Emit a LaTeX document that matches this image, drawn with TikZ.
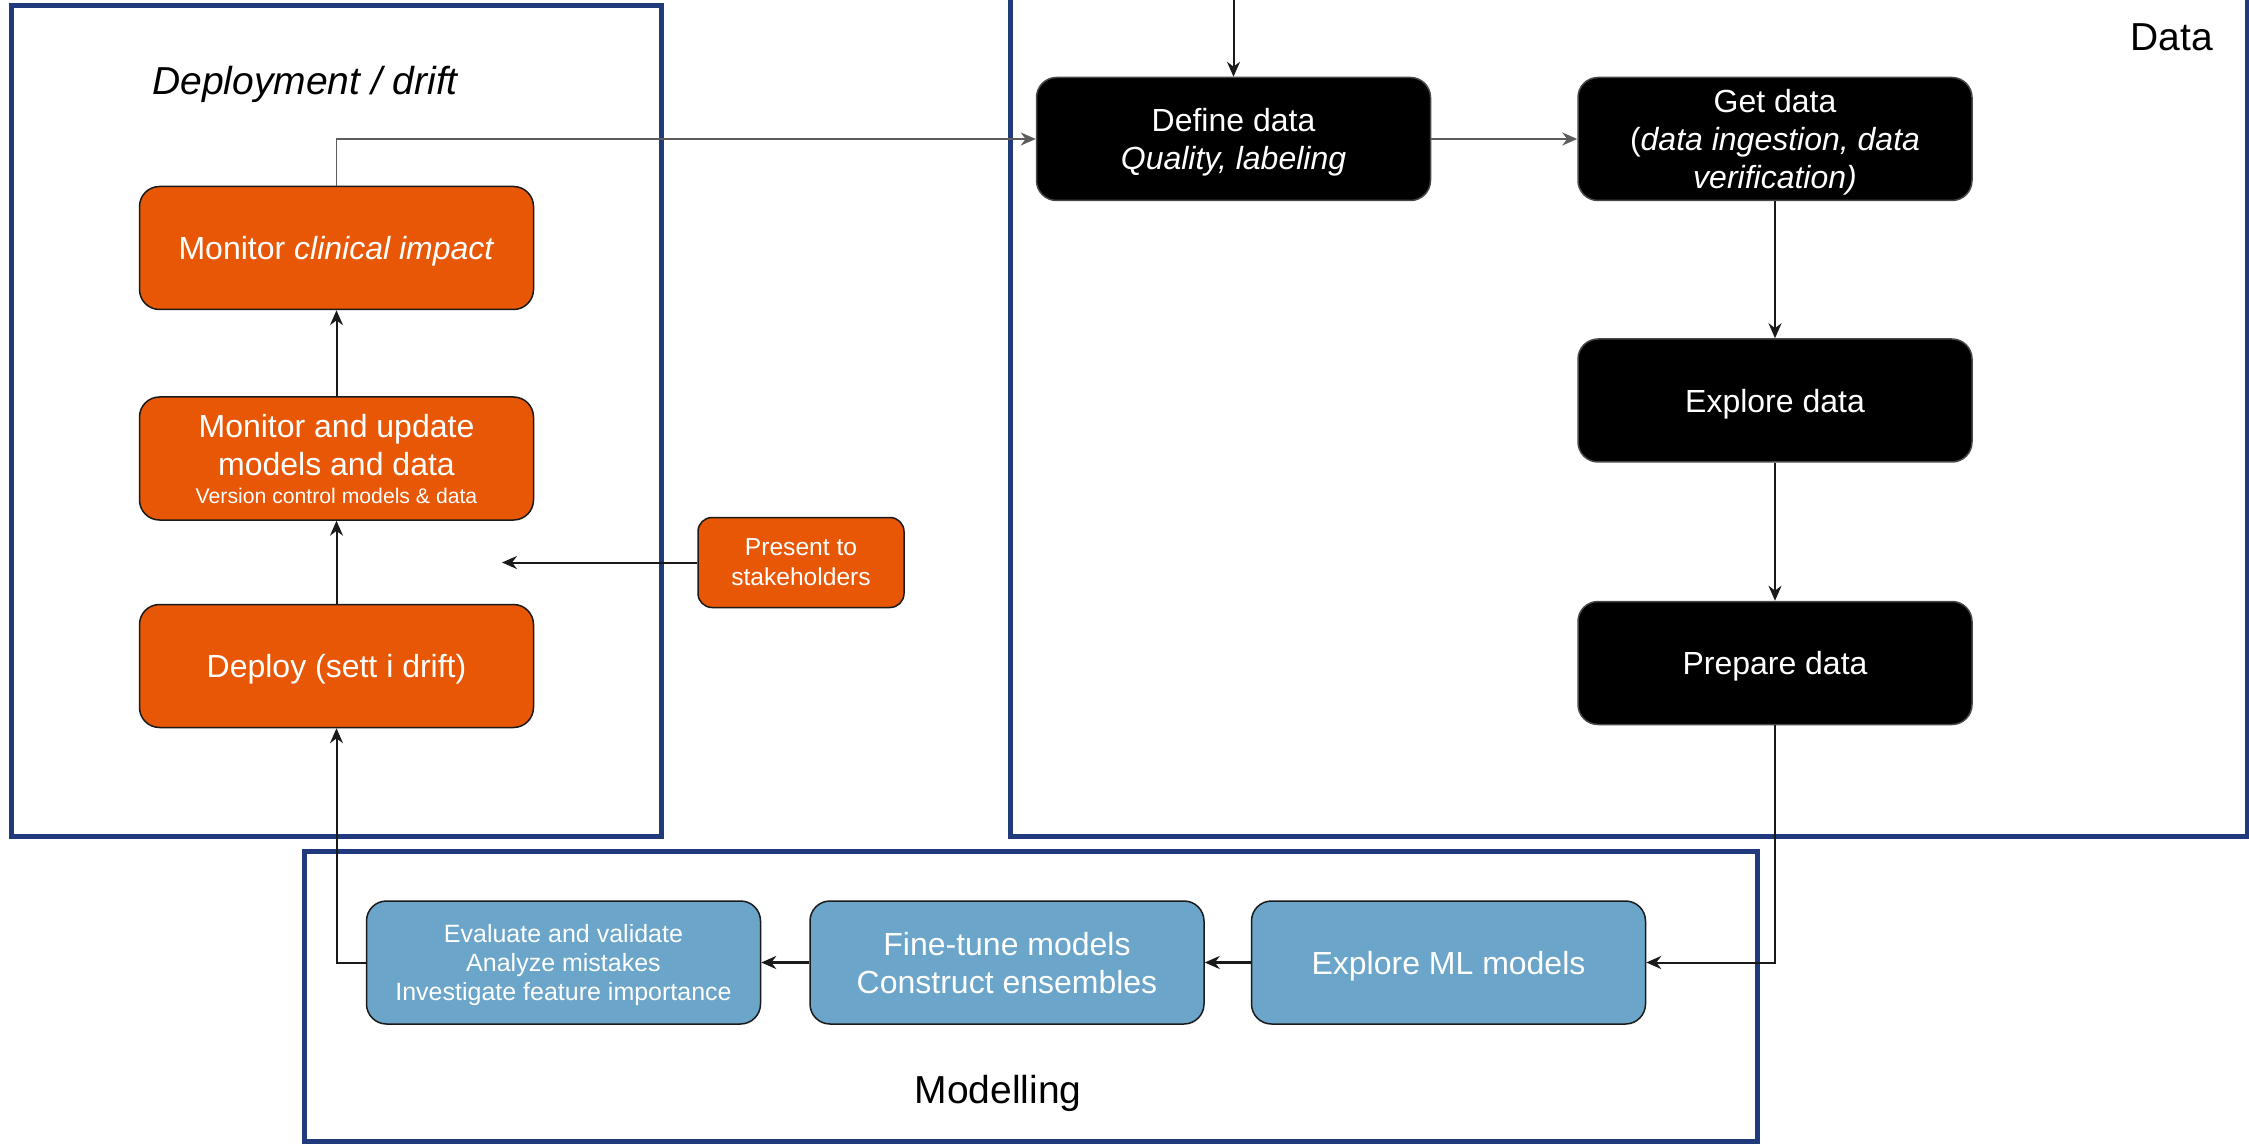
\documentclass[tikz,border=0pt]{standalone}
\usepackage{fontspec}
\setmainfont{Liberation Sans}
\usetikzlibrary{arrows.meta,positioning}
\definecolor{ink}{HTML}{1A1A1A}
\definecolor{frame}{HTML}{203A7C}
\definecolor{deployorange}{HTML}{E85705}
\definecolor{modelblue}{HTML}{6BA5CA}
\definecolor{linegray}{HTML}{5C5C5C}
\tikzset{
  basebox/.style={draw=ink,rounded corners=10pt,align=center,text=white,line width=0.75pt,minimum width=197pt,minimum height=61.5pt,inner sep=2pt,text depth=0pt,font=\fontsize{16}{19}\selectfont},
  orangebox/.style={basebox,fill=deployorange},
  databox/.style={basebox,fill=black,draw=ink!80},
  modelbox/.style={basebox,fill=modelblue},
  smallbox/.style={basebox,minimum width=103pt,minimum height=45pt,rounded corners=7pt,font=\fontsize{12.3}{15}\selectfont},
  framebox/.style={draw=frame,line width=2.5pt},
  heading/.style={font=\fontsize{19.5}{23}\selectfont,text=black},
  arrow/.style={-{Stealth[length=7.5pt,width=6.5pt]},line width=1pt,draw=ink},
  boldarrow/.style={arrow,line width=1.4pt},
  softarrow/.style={-{Stealth[length=7.5pt,width=6.5pt]},line width=0.8pt,draw=linegray}
}

\begin{document}
\begin{tikzpicture}[x=0.5pt,y=-0.5pt]
  \clip (0,0) rectangle (2249,1144);
  \draw[framebox] (11,6) rectangle (661,836);
  \draw[framebox] (1010,-20) rectangle (2247,836);
  \draw[framebox] (304,851) rectangle (1757,1141);

  \node[heading] (deploytitle) at (305,84) {\itshape Deployment / drift};
  \node[heading] (datatitle) at (2172,37) {Data};
  \node[heading] (modeltitle) at (998,1093) {Modelling};

  \node[orangebox] (deploy) at (336.5,666) {Deploy (sett i drift)};
  \node[orangebox,above=41.5pt of deploy] (update) {Monitor and update\\models and data\\[-5pt]{\fontsize{10.6}{13}\selectfont Version control models \& data}};
  \node[orangebox,above=43pt of update] (clinical) {Monitor \textit{clinical impact}};
  \node[smallbox,fill=deployorange] (present) at (801,562.5) {Present to\\stakeholders};
  \coordinate (presentend) at (502,562.5);

  \node[databox] (define) at (1233.5,139) {Define data\\\textit{Quality, labeling}};
  \node[databox,right=73pt of define] (getdata) {Get data\\(\textit{data ingestion, data}\\\textit{verification)}};
  \node[databox,below=68.5pt of getdata] (exploredata) {Explore data};
  \node[databox,below=69pt of exploredata] (prepare) {Prepare data};
  \coordinate (intop) at (1233.5,-5);

  \node[modelbox] (exploreml) at (1448.5,962.5) {Explore ML models};
  \node[modelbox,left=23pt of exploreml] (finetune) {Fine-tune models\\Construct ensembles};
  \node[modelbox,left=24pt of finetune,font=\fontsize{12.5}{14.5}\selectfont] (evaluate) {Evaluate and validate\\Analyze mistakes\\Investigate feature importance};

  \draw[arrow] (intop) -- (define);
  \draw[softarrow] (clinical.north) |- (define.west);
  \draw[arrow,draw=linegray] (define) -- (getdata);
  \draw[arrow] (getdata) -- (exploredata);
  \draw[arrow] (exploredata) -- (prepare);
  \draw[arrow] (prepare.south) |- (exploreml.east);
  \draw[boldarrow] (exploreml) -- (finetune);
  \draw[boldarrow] (finetune) -- (evaluate);
  \draw[arrow] (evaluate.west) -| (deploy.south);
  \draw[arrow] (deploy) -- (update);
  \draw[arrow] (update) -- (clinical);
  \draw[arrow] (present) -- (presentend);
\end{tikzpicture}
\end{document}
